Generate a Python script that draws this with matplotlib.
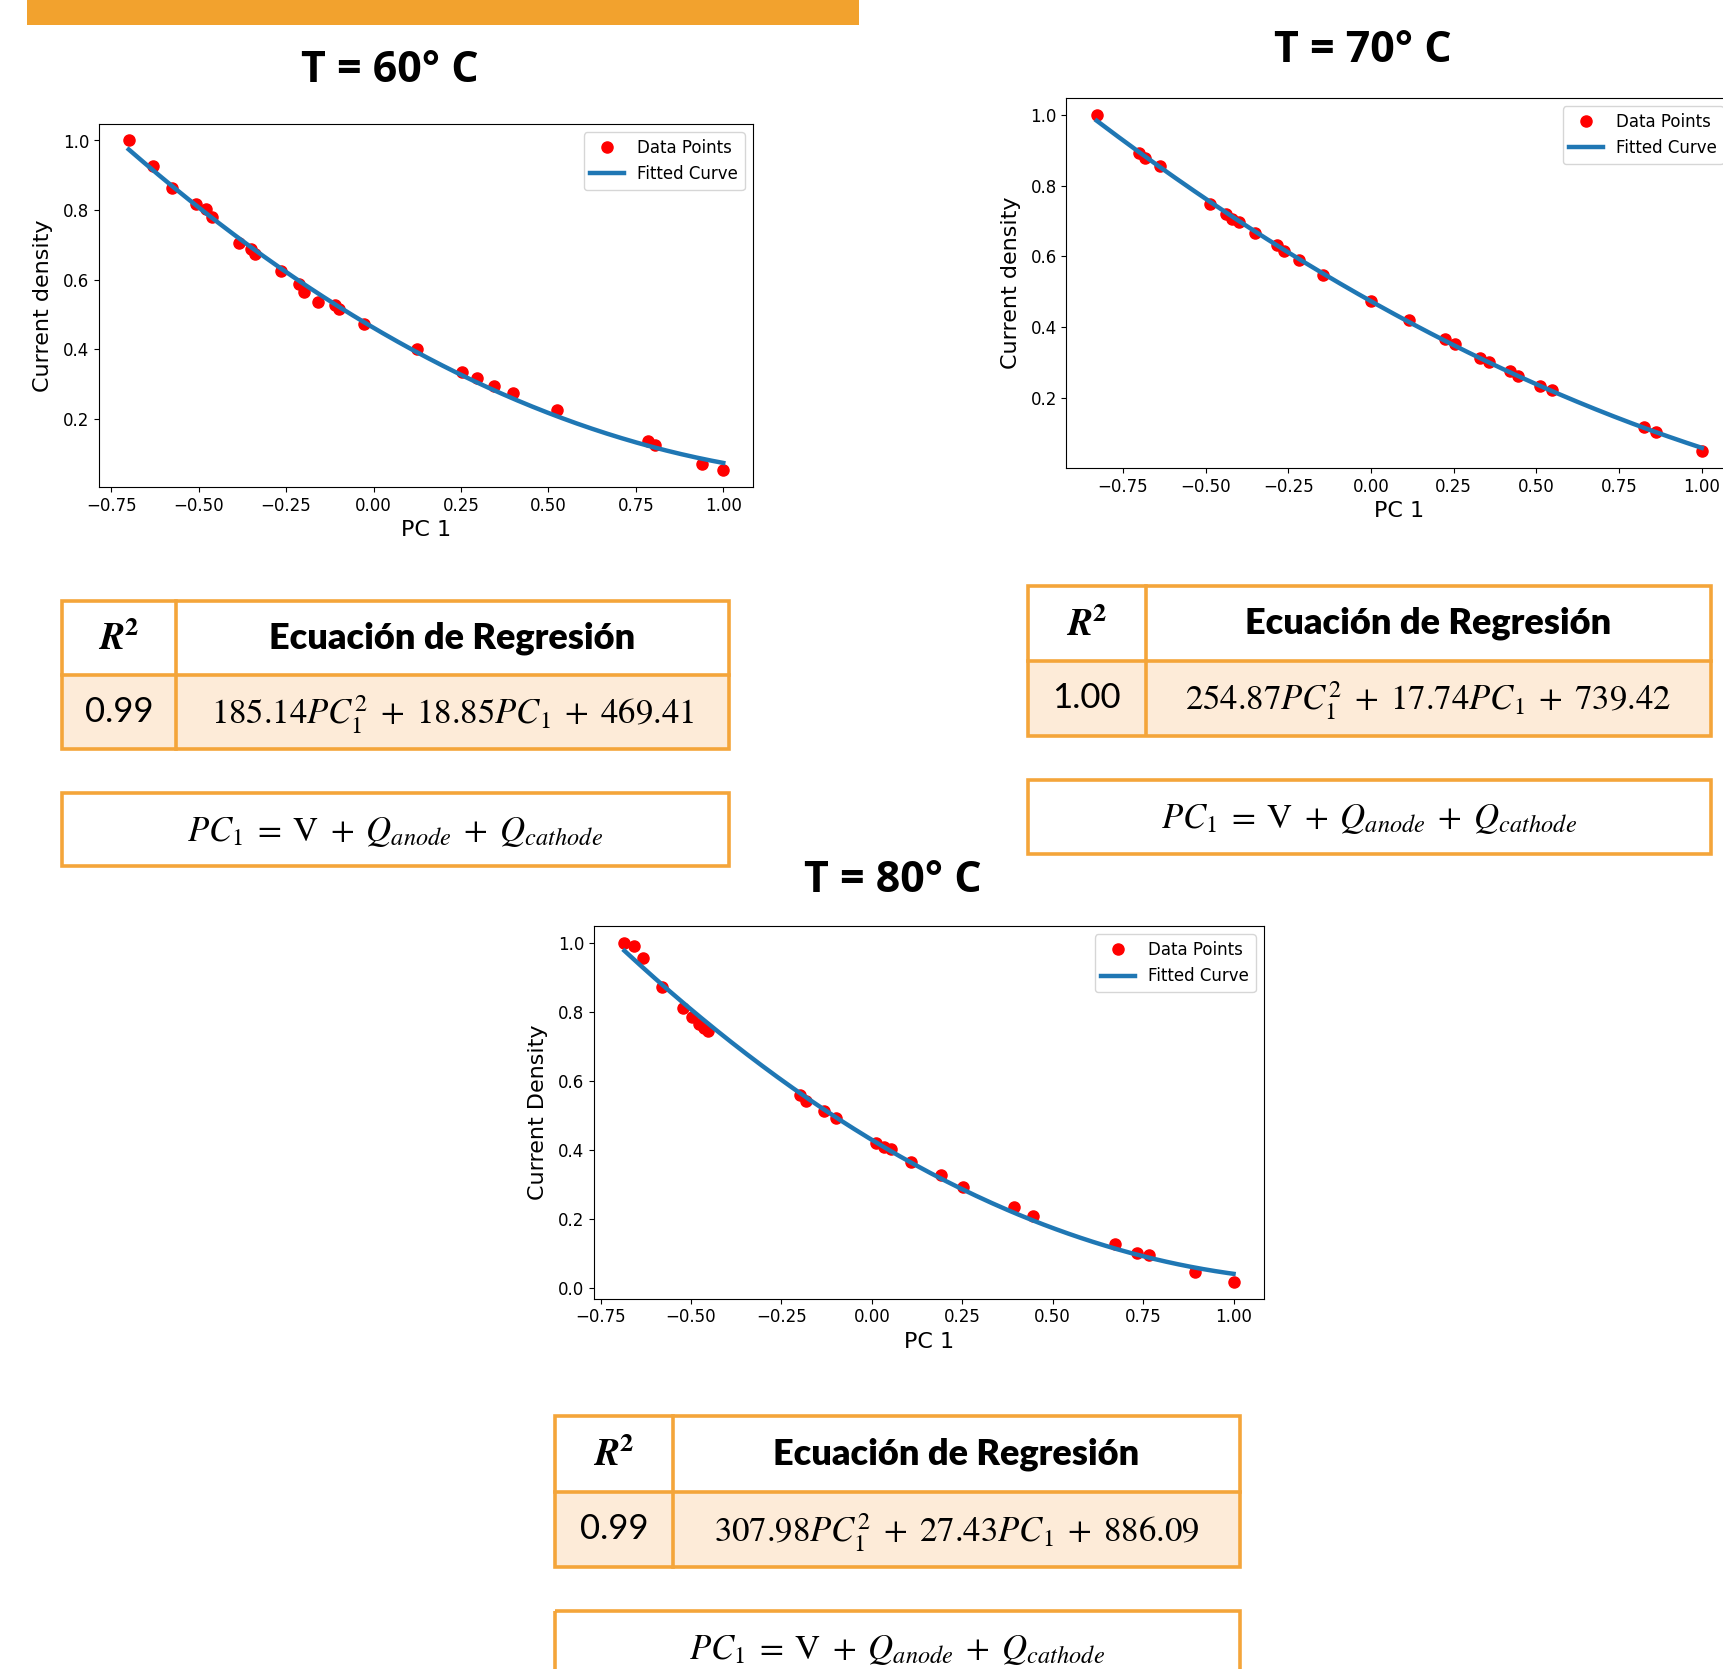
import numpy as np
import matplotlib
matplotlib.use("Agg")
import matplotlib.pyplot as plt
from matplotlib.patches import Rectangle

plt.rcParams["mathtext.fontset"] = "stix"

# data (normalised PC 1 vs current density)
x60 = [-0.700, -0.632, -0.576, -0.509, -0.478, -0.461, -0.385, -0.350, -0.338,
       -0.266, -0.214, -0.198, -0.159, -0.111, -0.098, -0.026, 0.124, 0.253,
       0.296, 0.345, 0.398, 0.525, 0.786, 0.805, 0.938, 1.000]
y60 = [1.000, 0.928, 0.864, 0.817, 0.802, 0.780, 0.706, 0.687, 0.673,
       0.625, 0.587, 0.565, 0.537, 0.527, 0.517, 0.473, 0.400, 0.335,
       0.319, 0.294, 0.274, 0.226, 0.136, 0.124, 0.070, 0.052]

x70 = [-0.829, -0.702, -0.682, -0.639, -0.487, -0.439, -0.419, -0.398, -0.350,
       -0.285, -0.262, -0.217, -0.145, 0.000, 0.114, 0.223, 0.253, 0.331,
       0.357, 0.421, 0.444, 0.510, 0.546, 0.826, 0.862, 1.000]
y70 = [1.000, 0.893, 0.878, 0.855, 0.749, 0.720, 0.707, 0.697, 0.667,
       0.632, 0.615, 0.591, 0.549, 0.473, 0.421, 0.368, 0.353, 0.314,
       0.301, 0.276, 0.262, 0.233, 0.224, 0.118, 0.105, 0.050]

x80 = [-0.684, -0.658, -0.633, -0.579, -0.523, -0.498, -0.477, -0.465, -0.453,
       -0.200, -0.182, -0.133, -0.100, 0.012, 0.033, 0.052, 0.107, 0.191,
       0.251, 0.392, 0.445, 0.673, 0.732, 0.765, 0.894, 1.000]
y80 = [1.000, 0.992, 0.957, 0.872, 0.811, 0.785, 0.766, 0.754, 0.745,
       0.559, 0.542, 0.513, 0.494, 0.419, 0.409, 0.402, 0.366, 0.328,
       0.294, 0.234, 0.210, 0.127, 0.103, 0.096, 0.048, 0.019]

titles = ["T = 60° C", "T = 70° C", "T = 80° C"]
ylabels = ["Current density", "Current density", "Current Density"]
r2_values = ["0.99", "1.00", "0.99"]
coef_a = ["185.14", "254.87", "307.98"]
coef_b = ["18.85", "17.74", "27.43"]
coef_c = ["469.41", "739.42", "886.09"]

W, H = 1724, 1669
ORANGE = "#F4A53A"
PEACH = "#FDEBD8"

fig = plt.figure(figsize=(W / 100, H / 100), dpi=100)

# overlay in pixel coords for tables, titles and the top bar
bg = fig.add_axes([0, 0, 1, 1])
bg.set_xlim(0, W)
bg.set_ylim(H, 0)
bg.axis("off")

bg.add_patch(Rectangle((27, 0), 832, 25, facecolor="#F2A22E", edgecolor="none"))


def ax_rect(l, t, r, b):
    return [l / W, 1 - b / H, (r - l) / W, (b - t) / H]


def draw_plot(rect, xs, ys, ylabel):
    ax = fig.add_axes(ax_rect(*rect))
    ax.plot(xs, ys, "o", color="red", ms=8, label="Data Points")
    coefs = np.polyfit(xs, ys, 2)
    xf = np.linspace(min(xs), max(xs), 200)
    ax.plot(xf, np.polyval(coefs, xf), color="#1f77b4", lw=3.2, label="Fitted Curve")
    ax.set_xlabel("PC 1", fontsize=16)
    ax.set_ylabel(ylabel, fontsize=16, labelpad=7)
    ax.set_xticks([-0.75, -0.5, -0.25, 0, 0.25, 0.5, 0.75, 1.0])
    ax.tick_params(labelsize=12)
    ax.legend(loc="upper right", fontsize=12)
    return ax


def draw_table(l, r, t, b, div, box_t, box_b, r2, a, bb, c):
    mid = (t + b) / 2
    bg.add_patch(Rectangle((l, mid), r - l, b - mid, facecolor=PEACH, edgecolor="none"))
    for rect in [(l, t, r - l, b - t), (l, box_t, r - l, box_b - box_t)]:
        bg.add_patch(Rectangle(rect[:2], rect[2], rect[3], facecolor="none",
                               edgecolor=ORANGE, lw=2.6))
    bg.plot([l, r], [mid, mid], color=ORANGE, lw=2.6)
    bg.plot([div, div], [t, b], color=ORANGE, lw=2.6)
    lc = (l + div) / 2
    rc = (div + r) / 2
    bg.text(lc, (t + mid) / 2 + 2, r"$\mathbfit{R}^{\mathbf{2}}$", fontsize=27,
            ha="center", va="center")
    bg.text(rc, (t + mid) / 2, "Ecuación de Regresión", fontsize=26, family="Lato",
            fontweight="heavy", ha="center", va="center")
    bg.text(lc, (mid + b) / 2, r2, fontsize=25, family="Lato", ha="center", va="center")
    eq = r"$%s PC_1^2 \;+\; %s PC_1 \;+\; %s$" % (a, bb, c)
    bg.text(rc, (mid + b) / 2 + 3, eq, fontsize=25, ha="center", va="center")
    bg.text((l + r) / 2, box_t + 39,
            r"$PC_1 \;=\; \mathrm{V} \;+\; Q_{anode} \;+\; Q_{cathode}$",
            fontsize=25, ha="center", va="center")


plots = [
    ((99, 124, 753, 487), x60, y60),
    ((1066.5, 98, 1732, 468), x70, y70),
    ((594, 926, 1264, 1298.5), x80, y80),
]
title_pos = [(390, 71), (1363, 51), (893, 880)]

for i, (rect, xs, ys) in enumerate(plots):
    draw_plot(rect, xs, ys, ylabels[i])
    bg.text(title_pos[i][0], title_pos[i][1], titles[i], fontsize=31,
            family="Open Sans", fontweight="bold", ha="center", va="center")

tables = [
    (61.6, 729, 601, 749, 176, 793, 866),
    (1028, 1711, 586, 735.5, 1145.6, 779.5, 854),
    (555, 1240, 1416, 1567, 673, 1611, 1700),
]
for i, (l, r, t, b, div, bt, bb_) in enumerate(tables):
    draw_table(l, r, t, b, div, bt, bb_, r2_values[i], coef_a[i], coef_b[i], coef_c[i])

fig.savefig("out.png", dpi=100)
